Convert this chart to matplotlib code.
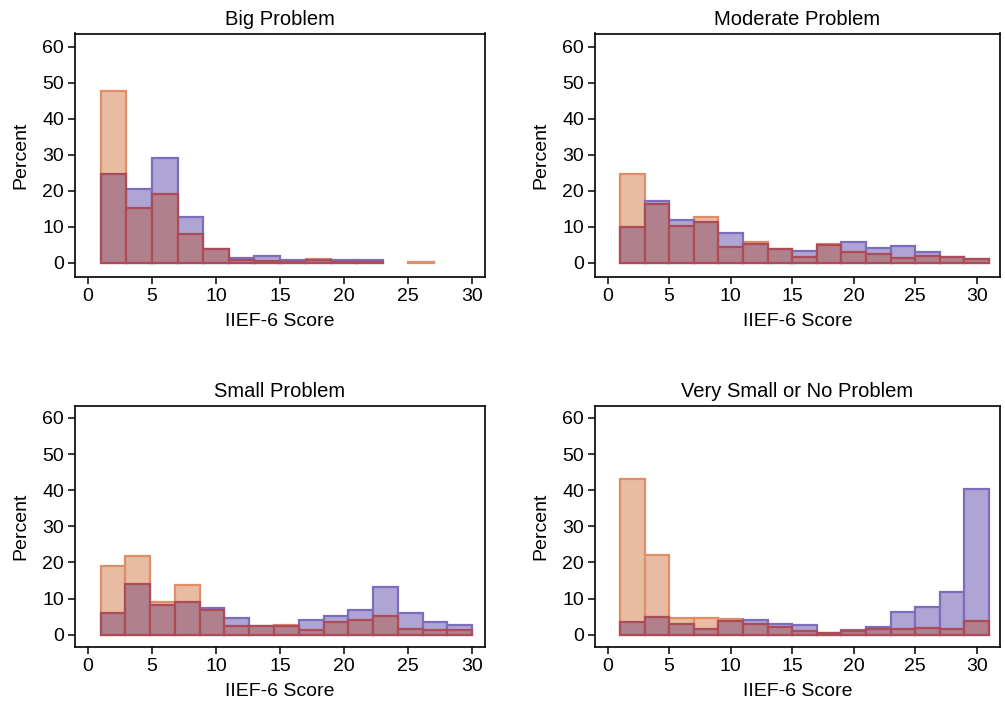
import numpy as np
import matplotlib
matplotlib.use("Agg")
import matplotlib.pyplot as plt

plt.rcParams['font.family'] = ['Liberation Sans', 'DejaVu Sans']

titles = ["Big Problem", "Moderate Problem", "Small Problem", "Very Small or No Problem"]

# histogram bins for each panel: (start, end, number of bins)
bin_specs = [(1, 27, 13), (1, 31, 15), (1, 30, 15), (1, 31, 15)]

# percent per bin, orange series
orange = [
    [47.7, 15.1, 19.1, 7.9, 3.9, 0.8, 0.5, 0.3, 1.1, 0.3, 0.3, 0.0, 0.2],
    [24.5, 16.3, 10.1, 12.7, 4.3, 5.7, 3.9, 1.6, 5.2, 2.9, 2.3, 1.3, 1.8, 1.6, 1.1],
    [19.0, 21.9, 9.0, 13.7, 6.9, 2.5, 2.3, 2.8, 1.4, 3.4, 4.1, 5.1, 1.7, 1.4, 1.2],
    [43.2, 22.0, 4.7, 4.5, 4.3, 2.9, 2.2, 1.1, 0.6, 1.1, 1.5, 1.7, 1.8, 1.7, 3.8],
]
# percent per bin, purple series
purple = [
    [24.5, 20.6, 29.1, 12.8, 3.9, 1.4, 1.8, 0.8, 0.6, 0.6, 0.8, 0.0, 0.0],
    [9.9, 17.0, 11.9, 11.2, 8.3, 5.2, 3.9, 3.1, 5.0, 5.6, 4.0, 4.7, 3.0, 1.6, 0.9],
    [6.0, 14.0, 8.3, 9.1, 7.5, 4.7, 2.3, 2.5, 4.0, 5.1, 6.9, 13.3, 6.1, 3.5, 2.6],
    [3.4, 5.0, 3.0, 1.5, 3.8, 4.0, 3.0, 2.8, 0.6, 1.2, 2.2, 6.4, 7.7, 11.9, 40.4],
]

or_fill, or_edge = '#E8BCA2', '#E08E68'
pu_fill, pu_edge = '#AEA5D5', '#7E6CBD'
ov_fill, ov_edge = '#B0808C', '#AC4C58'

positions = [
    [75/1005, 1-277/706, 410/1005, 243.5/706],
    [595/1005, 1-277/706, 405/1005, 243.5/706],
    [75/1005, 1-647/706, 410/1005, 241.3/706],
    [595/1005, 1-647/706, 405/1005, 241.3/706],
]
xlims = [(-1.0, 31.0), (-1.03, 31.9), (-1.0, 31.0), (-1.03, 31.9)]
ylims = [(-4.0, 63.7), (-4.0, 63.7), (-3.4, 63.4), (-3.4, 63.4)]

fig = plt.figure(figsize=(10.05, 7.06), dpi=100)

for i in range(4):
    ax = fig.add_axes(positions[i])
    start, end, nb = bin_specs[i]
    edges = np.linspace(start, end, nb + 1)
    left = edges[:-1]
    w = np.diff(edges)
    o = np.array(orange[i])
    p = np.array(purple[i])
    lo = np.minimum(o, p)
    # the taller bar of each bin (skip empty bins)
    big_o = (o > p) & (o > 0)
    big_p = (p >= o) & (p > 0)
    ax.bar(left[big_o], o[big_o], width=w[big_o], align='edge',
           color=or_fill, edgecolor=or_edge, linewidth=1.6)
    ax.bar(left[big_p], p[big_p], width=w[big_p], align='edge',
           color=pu_fill, edgecolor=pu_edge, linewidth=1.6)
    # overlap region
    has = lo > 0
    ax.bar(left[has], lo[has], width=w[has], align='edge',
           color=ov_fill, edgecolor=ov_edge, linewidth=1.6)

    ax.set_xlim(*xlims[i])
    ax.set_ylim(*ylims[i])
    ax.set_xticks([0, 5, 10, 15, 20, 25, 30])
    ax.set_yticks([0, 10, 20, 30, 40, 50, 60])
    ax.tick_params(labelsize=14, length=5, width=1.1, color='black', pad=3)
    for s in ax.spines.values():
        s.set_linewidth(1.2)
    ax.set_title(titles[i], fontsize=14.5, pad=6)
    ax.set_xlabel("IIEF-6 Score", fontsize=14, labelpad=6)
    ax.set_ylabel("Percent", fontsize=14, labelpad=9)

fig.savefig("out.png", dpi=100)
